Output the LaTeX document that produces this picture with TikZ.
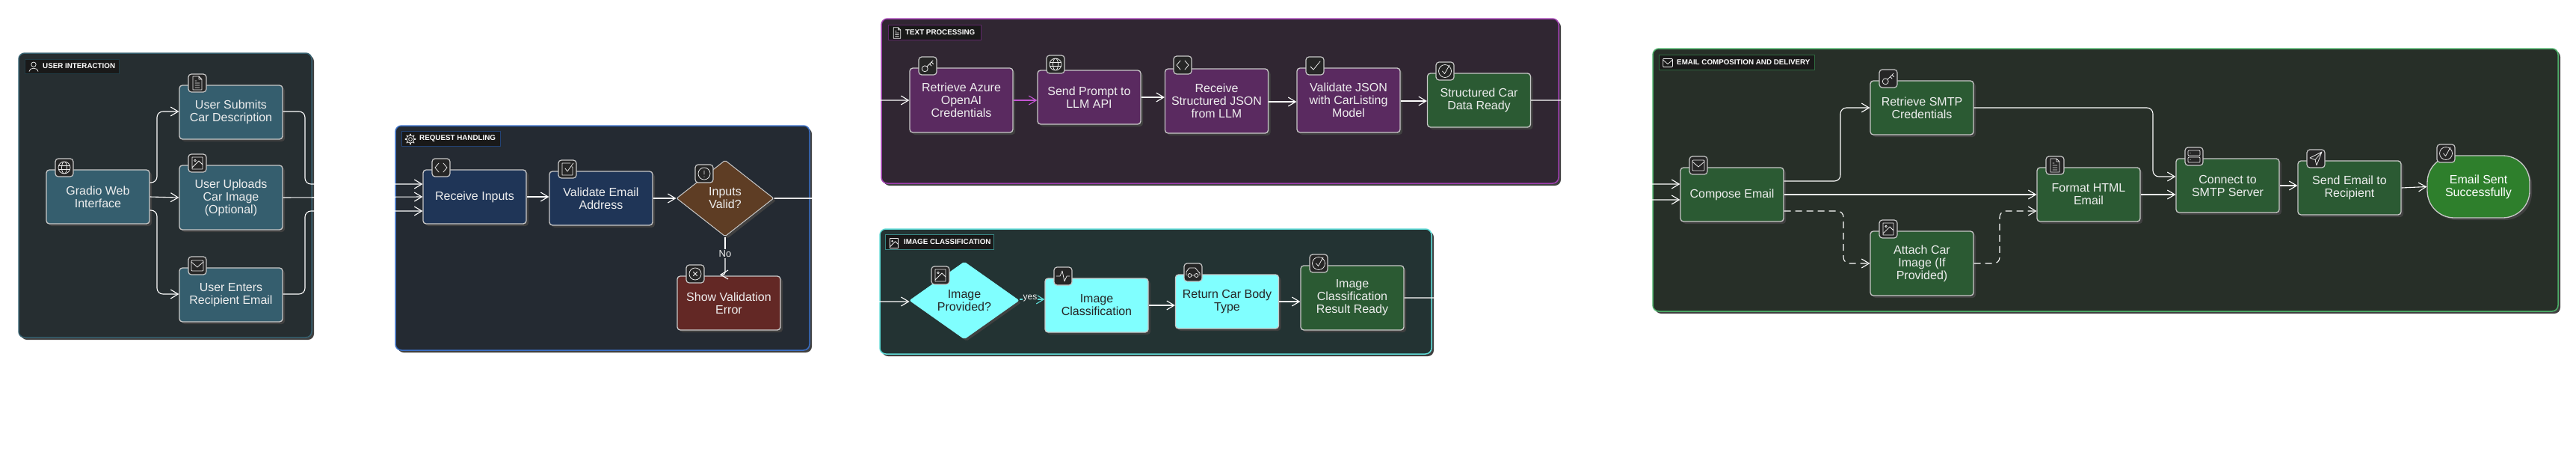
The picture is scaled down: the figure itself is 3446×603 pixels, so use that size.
\documentclass[tikz,border=0pt]{standalone}
\usepackage{fontspec}
\setmainfont{Liberation Sans}
\usetikzlibrary{shapes.geometric,shadows,calc,arrows.meta}
\definecolor{uiPanel}{HTML}{262E31}\definecolor{uiLine}{HTML}{36606F}\definecolor{uiFill}{HTML}{355E6E}
\definecolor{rqPanel}{HTML}{242A32}\definecolor{rqLine}{HTML}{3B6FC4}\definecolor{rqFill}{HTML}{1F3557}
\definecolor{tpPanel}{HTML}{302632}\definecolor{tpLine}{HTML}{A03FB0}\definecolor{tpFill}{HTML}{5A2A60}
\definecolor{imPanel}{HTML}{233333}\definecolor{imLine}{HTML}{5FDCD8}\definecolor{imFill}{HTML}{80FFFF}
\definecolor{emPanel}{HTML}{272F28}\definecolor{emLine}{HTML}{4CAF68}\definecolor{emFill}{HTML}{2B5A33}
\definecolor{warnFill}{HTML}{5E3D24}\definecolor{errFill}{HTML}{632825}\definecolor{okFill}{HTML}{2E7F2C}
\definecolor{edgeC}{HTML}{FFFFFF}\definecolor{nodeLine}{HTML}{C8C8C8}\definecolor{shade}{HTML}{404040}
\definecolor{txtC}{HTML}{EEEEEE}\definecolor{magC}{HTML}{C455D4}
\tikzset{
  panelbox/.style={rectangle,rounded corners=8,line width=1.5pt,inner sep=0,
    copy shadow={shadow xshift=3pt,shadow yshift=-3pt,fill=shade,draw=none}},
  labelbox/.style={rectangle,fill=black!90,line width=.5pt,inner sep=0},
  labeltxt/.style={anchor=west,inner sep=0,text=white,font=\fontsize{9.8}{11}\selectfont\bfseries},
  proc/.style={rectangle,rounded corners=4,draw=nodeLine,line width=1.3pt,inner sep=0,
    minimum width=138pt,minimum height=72pt,align=center,text=txtC,
    font=\fontsize{16}{17}\selectfont,
    copy shadow={shadow xshift=3pt,shadow yshift=-3pt,fill=shade,draw=none}},
  tall/.style={minimum height=86pt},
  dia/.style={proc,diamond,rounded corners=2,line width=1pt,shape aspect=1.3},
  icbox/.style={rectangle,rounded corners=4,draw=nodeLine,fill=black!85,line width=1.2pt,
    inner sep=0,minimum width=24pt,minimum height=24pt},
  glyph/.style={draw=txtC,line width=.75pt,line join=round,line cap=round},
  edge/.style={draw=edgeC,line width=1.1pt,rounded corners=8,-{Straight Barb[length=10pt,width=12pt]}},
  plain/.style={draw=edgeC,line width=1.1pt,rounded corners=8},
  edgelbl/.style={inner sep=1pt,text=txtC,font=\fontsize{13}{15}\selectfont}
}
\newcommand{\gGlobe}{\draw[glyph] (0,0) circle[radius=8] (0,0) ellipse[x radius=3.5,y radius=8] (-7.6,-2.5)--(7.6,-2.5) (-7.6,2.5)--(7.6,2.5);}
\newcommand{\gDoc}{\draw[glyph] (-6,-9)--(2,-9)--(6,-5)--(6,9)--(-6,9)--cycle (2,-9)--(2,-5)--(6,-5) (-3,0)--(3,0) (-3,3)--(3,3) (-3,6)--(3,6) (-3,-3)--(-1,-3);}
\newcommand{\gImage}{\draw[glyph] (-7,-8) rectangle (7,8) (-3,-3.5) circle[radius=1.3] (-7,6)--(2,-3)--(7,2);}
\newcommand{\gMail}{\draw[glyph,rounded corners=1] (-8,-7) rectangle (8,7);\draw[glyph] (-8,-5)--(0,2)--(8,-5);}
\newcommand{\gCode}{\draw[glyph] (-3,-6)--(-8,0)--(-3,6) (3,-6)--(8,0)--(3,6);}
\newcommand{\gChkSq}{\draw[glyph] (6,-3)--(7,-3)--(7,8)--(-7,8)--(-7,-8)--(4,-8) (-3,-1)--(0,3)--(8,-8);}
\newcommand{\gAlert}{\draw[glyph] (0,0) circle[radius=8] (0,-4)--(0,1) (0,4)--(0,4.4);}
\newcommand{\gCross}{\draw[glyph] (0,0) circle[radius=8] (-2.7,-2.7)--(2.7,2.7) (2.7,-2.7)--(-2.7,2.7);}
\newcommand{\gKey}{\draw[glyph] (-3.8,3.8) circle[radius=4] (-1,1)--(7,-7) (2.5,-2.5)--(5,0) (5,-5)--(7.5,-2.5);}
\newcommand{\gCheck}{\draw[glyph] (-6,1)--(-2,5)--(7,-6);}
\newcommand{\gChkCirc}{\draw[glyph] (0,0) circle[radius=8.5] (-3.5,0)--(-0.5,3.5)--(6,-8);}
\newcommand{\gPulse}{\draw[glyph] (-9,0)--(-4,0)--(-1,-7)--(2,7)--(5,0)--(9,0);}
\newcommand{\gCar}{\draw[glyph] (-9,4)--(-9,-1)--(-5,-6)--(3,-6)--(7,-1)--(9,1)--(9,4) (-4.5,4) circle[radius=2.5] (4.5,4) circle[radius=2.5] (-2,4)--(2,4);}
\newcommand{\gServer}{\draw[glyph,rounded corners=1] (-8,-8) rectangle (8,-1) (-8,1) rectangle (8,8);\draw[glyph] (-5,-4.5)--(-4.8,-4.5) (-5,4.5)--(-4.8,4.5);}
\newcommand{\gSend}{\draw[glyph] (8,-9)--(-8,-1)--(-1,1.5)--(1,9)--cycle (-1,1.5)--(8,-9);}
\newcommand{\gUser}{\draw[glyph] (0,-3.5) circle[radius=4] (-7.5,8) .. controls (-7.5,1) and (7.5,1) .. (7.5,8);}
\newcommand{\gGear}{\draw[glyph] (0,0) circle[radius=3] (0,0) circle[radius=6.5];\foreach \a in {0,45,...,315}{\draw[glyph,line width=1.3pt] (\a:6.5)--(\a:8.5);}}
% icon on a node: name, x, y, glyph
\newcommand{\icn}[4]{\node[icbox] (#1) at (#2,#3) {};\begin{scope}[shift={(#1.center)}]#4\end{scope}}
% small glyph in a panel label
\newcommand{\lbl}[1]{\begin{scope}[shift={#1},scale=.8]}
\begin{document}
\begin{tikzpicture}[x=1pt,y=-1pt]
\useasboundingbox (0,0) rectangle (3446,603);
\fill[white] (0,0) rectangle (3446,603);
% panels
\node[panelbox,fill=uiPanel,draw=uiLine,minimum width=392pt,minimum height=380pt] (pUser) at (221,261) {};
\node[panelbox,fill=rqPanel,draw=rqLine,minimum width=554pt,minimum height=300pt] (pReq) at (806,318) {};
\node[panelbox,fill=tpPanel,draw=tpLine,minimum width=906pt,minimum height=220pt] (pText) at (1632,135) {};
\node[panelbox,fill=imPanel,draw=imLine,minimum width=738pt,minimum height=167pt] (pImg) at (1546,389.5) {};
\node[panelbox,fill=emPanel,draw=emLine,minimum width=1211pt,minimum height=351pt] (pMail) at (2816.5,240.5) {};
% panel labels
\node[labelbox,draw=uiLine!60!black,minimum width=126pt,minimum height=19pt] (lUser) at (96,88.5) {};
\node[labeltxt] (tUser) at (57,88.5) {USER INTERACTION};
\lbl{(45,89)}\gUser\end{scope}
\node[labelbox,draw=rqLine!60!black,minimum width=132pt,minimum height=20pt] (lReq) at (603,185) {};
\node[labeltxt] (tReq) at (561,185) {REQUEST HANDLING};
\lbl{(549,186)}\gGear\end{scope}
\node[labelbox,draw=tpLine!60!black,minimum width=124pt,minimum height=20pt] (lText) at (1250,43) {};
\node[labeltxt] (tText) at (1211,43) {TEXT PROCESSING};
\lbl{(1200,44)}\gDoc\end{scope}
\node[labelbox,draw=imLine!60!black,minimum width=145pt,minimum height=20pt] (lImg) at (1256.5,323) {};
\node[labeltxt] (tImg) at (1209,323) {IMAGE CLASSIFICATION};
\lbl{(1196,325)}\gImage\end{scope}
\node[labelbox,draw=emLine!60!black,minimum width=208pt,minimum height=20pt] (lMail) at (2323,83) {};
\node[labeltxt] (tMail) at (2243,83) {EMAIL COMPOSITION AND DELIVERY};
\lbl{(2231,84)}\gMail\end{scope}
% nodes
\node[proc,fill=uiFill] (gradio) at (131,263) {Gradio Web\\Interface};
\node[proc,fill=uiFill] (submits) at (309,150) {User Submits\\Car Description};
\node[proc,tall,fill=uiFill] (uploads) at (309,264) {User Uploads\\Car Image\\(Optional)};
\node[proc,fill=uiFill] (enters) at (309,394) {User Enters\\Recipient Email};
\node[proc,fill=rqFill] (receive) at (635,263) {Receive Inputs};
\node[proc,fill=rqFill] (validate) at (804,265) {Validate Email\\Address};
\node[dia,fill=warnFill,minimum width=130pt,minimum height=102pt] (valid) at (970,265) {Inputs\\Valid?};
\node[proc,fill=errFill] (showerr) at (975,405) {Show Validation\\Error};
\node[proc,tall,fill=tpFill] (azure) at (1286,134) {Retrieve Azure\\OpenAI\\Credentials};
\node[proc,fill=tpFill] (prompt) at (1457,130) {Send Prompt to\\LLM API};
\node[proc,tall,fill=tpFill] (jsonin) at (1627.5,135) {Receive\\Structured JSON\\from LLM};
\node[proc,tall,fill=tpFill] (jsonchk) at (1804,134) {Validate JSON\\with CarListing\\Model};
\node[proc,fill=emFill] (structured) at (1978.5,134) {Structured Car\\Data Ready};
\node[dia,fill=imFill,draw=imFill,text=black!85,minimum width=146pt,minimum height=103pt] (imgprov) at (1290,401.5) {Image\\Provided?};
\node[proc,fill=imFill,text=black!85] (imgcls) at (1467,408) {Image\\Classification};
\node[proc,fill=imFill,text=black!85] (body) at (1641.5,403) {Return Car Body\\Type};
\node[proc,tall,fill=emFill] (imgres) at (1809,398) {Image\\Classification\\Result Ready};
\node[proc,fill=emFill] (compose) at (2317,260) {Compose Email};
\node[proc,fill=emFill] (smtpcred) at (2571,144) {Retrieve SMTP\\Credentials};
\node[proc,tall,fill=emFill] (attach) at (2571,352) {Attach Car\\Image (If\\Provided)};
\node[proc,fill=emFill] (format) at (2794,260) {Format HTML\\Email};
\node[proc,fill=emFill] (connect) at (2980,248) {Connect to\\SMTP Server};
\node[proc,fill=emFill] (sendmail) at (3143,251) {Send Email to\\Recipient};
\node[proc,fill=okFill,rounded corners=36,minimum width=137pt,minimum height=83pt,text=white] (sent) at (3315.5,249.5) {Email Sent\\Successfully};
% connectors
\draw[edge] ($(gradio.east)+(0,-19)$) -- (210,244) -- (210,149) -- ($(submits.west)+(0,-1)$);
\draw[edge] (gradio.east) -- (uploads.west);
\draw[edge] ($(gradio.east)+(0,18)$) -- (210,281) -- (210,393) -- ($(enters.west)+(0,-1)$);
\draw[edge] ($(submits.east)+(0,-1)$) -- (408,149) -- (408,246) -- ($(receive.west)+(0,-17)$);
\draw[edge] (uploads.east) -- (receive.west);
\draw[edge] ($(enters.east)+(0,-1)$) -- (408,393) -- (408,282) -- ($(receive.west)+(0,19)$);
\draw[edge] (receive.east) -- (receive.east -| validate.west);
\draw[edge] (validate.east) -- (valid.west);
\draw[plain] (valid.south) -- (970,339);
\draw[edge,rounded corners=3] (970,339) -- (970,367) -- (963,367);
\node[edgelbl,fill=rqPanel] (noLbl) at (970,339) {No};
\coordinate (split) at (1130,265);
\draw[edge] (valid.east) -- (split) -- (1130,134) -- (azure.west);
\draw[edge] (valid.east) -- (split) -- (1130,403) -- ($(imgprov.west)+(0,1.5)$);
\draw[edge,draw=magC] (azure.east) -- (azure.east -| prompt.west);
\draw[edge] ($(prompt.east)+(0,0)$) -- (prompt.east -| jsonin.west);
\draw[edge] ($(jsonin.east)+(0,1)$) -- ($(jsonin.east -| jsonchk.west)+(0,1)$);
\draw[edge] ($(jsonchk.east)+(0,1)$) -- ($(jsonchk.east -| structured.west)+(0,1)$);
\draw[edge,draw=imLine] ($(imgprov.east)+(0,-1.5)$) -- ($(imgprov.east -| imgcls.west)+(0,-1.5)$);
\node[edgelbl,fill=imPanel,font=\fontsize{12}{14}\selectfont] (yesLbl) at (1378,399) {yes};
\draw[edge] (imgcls.east) -- (imgcls.east -| body.west);
\draw[edge] (body.east) -- (body.east -| imgres.west);
\draw[edge] (structured.east) -- (2130,134) -- (2130,246) -- ($(compose.west)+(0,-14)$);
\draw[edge] (imgres.east) -- (2160,398) -- (2160,267) -- ($(compose.west)+(0,7)$);
\draw[edge] ($(compose.east)+(0,-18)$) -- (2462,242) -- (2462,144) -- (smtpcred.west);
\draw[edge] (compose.east) -- (format.west);
\draw[edge,dashed,dash pattern=on 9pt off 6pt] ($(compose.east)+(0,22)$) -- (2466,282) -- (2466,352) -- (attach.west);
\draw[edge,dashed,dash pattern=on 9pt off 6pt] (attach.east) -- (2675,352) -- (2675,282) -- ($(format.west)+(0,22)$);
\draw[edge] (smtpcred.east) -- (2880,144) -- (2880,236) -- ($(connect.west)+(0,-12)$);
\draw[edge] (format.east) -- ($(connect.west)+(0,12)$);
\draw[edge] (connect.east) -- (connect.east -| sendmail.west);
\draw[edge] (sendmail.east) -- (sent.west);
% icons
\icn{iGradio}{86}{224}{\gGlobe}
\icn{iSubmit}{264}{111}{\gDoc}
\icn{iUpload}{264}{218}{\gImage}
\icn{iEnter}{264}{355}{\gMail}
\icn{iRecv}{590}{224}{\gCode}
\icn{iVal}{759}{226}{\gChkSq}
\icn{iValid}{942}{232}{\gAlert}
\icn{iErr}{930}{366}{\gCross}
\icn{iAzure}{1241}{88}{\gKey}
\icn{iPrompt}{1412}{86}{\gGlobe}
\icn{iJsonIn}{1582}{87}{\gCode}
\icn{iJsonChk}{1759}{88}{\gCheck}
\icn{iStruct}{1933}{95}{\gChkCirc}
\icn{iProv}{1258}{368}{\gImage}
\icn{iCls}{1422}{369}{\gPulse}
\icn{iBody}{1596}{364}{\gCar}
\icn{iRes}{1764}{352}{\gChkCirc}
\icn{iCompose}{2272}{221}{\gMail}
\icn{iCred}{2526}{105}{\gKey}
\icn{iAttach}{2526}{306}{\gImage}
\icn{iFormat}{2749}{221}{\gDoc}
\icn{iConn}{2935}{209}{\gServer}
\icn{iSend}{3098}{212}{\gSend}
\icn{iSent}{3272}{205}{\gChkCirc}
\end{tikzpicture}
\end{document}
